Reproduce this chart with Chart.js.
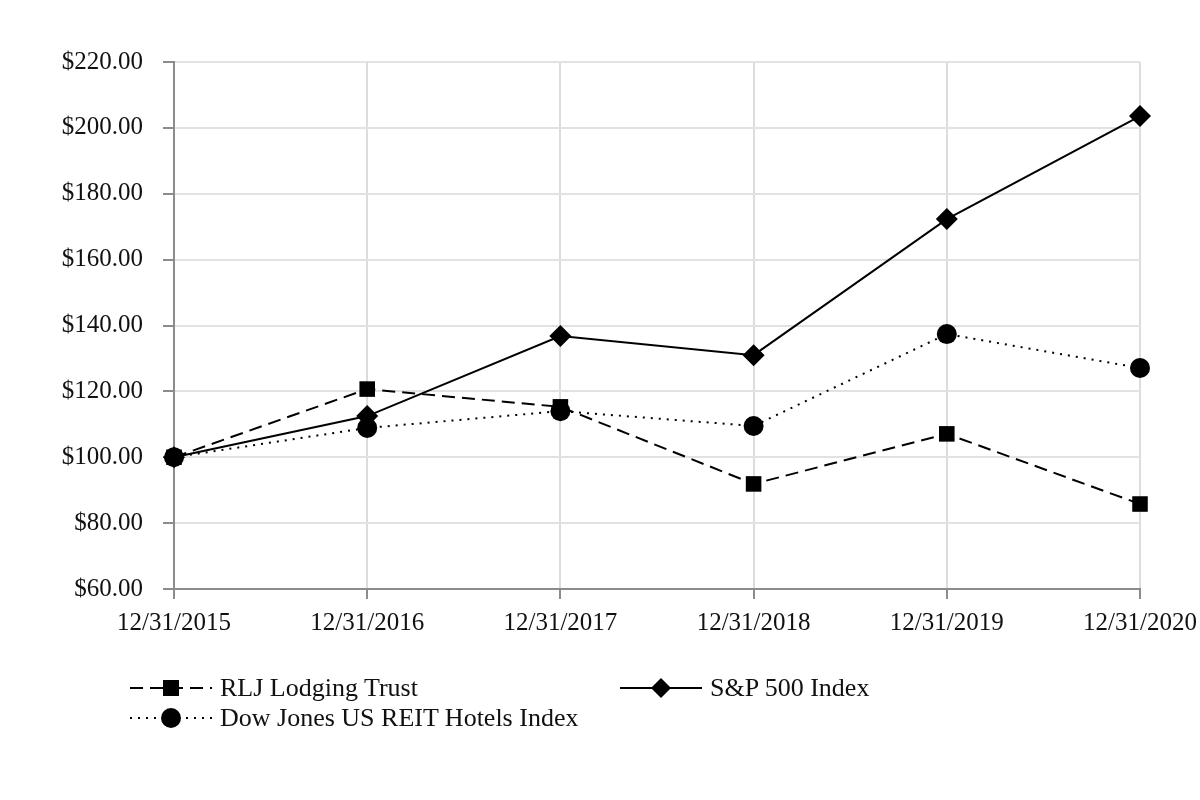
<!DOCTYPE html>
<html>
<head>
<meta charset="utf-8">
<script src="https://cdn.jsdelivr.net/npm/chart.js@4.4.1/dist/chart.umd.min.js"></script>
<style>
  html, body { margin: 0; padding: 0; background: #fff; }
  #wrap { position: relative; width: 1200px; height: 800px; }
  #legend { position: absolute; left: 0; top: 0; width: 1200px; height: 800px; pointer-events: none;
    font-family: "Liberation Serif", "Times New Roman", serif; font-size: 26px; color: #111; }
  .item { position: absolute; display: flex; align-items: center; height: 30px; }
  .item svg { display: block; }
  .item span { margin-left: 8px; white-space: nowrap; }
</style>
</head>
<body>
<div id="wrap">
  <canvas id="chart" width="1200" height="800"></canvas>
  <div id="legend"></div>
</div>
<script>
const years = ["12/31/2015", "12/31/2016", "12/31/2017", "12/31/2018", "12/31/2019", "12/31/2020"];
const rljValues = [100.0, 120.7, 115.3, 91.9, 107.1, 85.8];
const spValues = [100.0, 112.5, 136.8, 131.0, 172.3, 203.6];
const djValues = [100.0, 108.9, 114.0, 109.5, 137.4, 127.1];
const seriesNames = ["RLJ Lodging Trust", "S&P 500 Index", "Dow Jones US REIT Hotels Index"];
const yTicks = { min: 60, max: 220, step: 20 };

const font = { family: "'Liberation Serif', 'Times New Roman', serif", size: 25 };

const series = [
  { label: seriesNames[0], data: rljValues, dash: [13, 7], point: "rect", radius: 11, order: 2 },
  { label: seriesNames[1], data: spValues, dash: [], point: "rectRot", radius: 11, order: 1 },
  { label: seriesNames[2], data: djValues, dash: [2, 6], point: "circle", radius: 10, order: 0 },
];

const chart = new Chart(document.getElementById("chart"), {
  type: "line",
  data: {
    labels: years,
    datasets: series.map((s) => ({
      label: s.label,
      data: s.data,
      borderColor: "#000",
      backgroundColor: "#000",
      borderWidth: 2,
      borderDash: s.dash,
      pointStyle: s.point,
      pointRadius: s.radius,
      pointBorderWidth: 0,
      pointBackgroundColor: "#000",
      tension: 0,
      order: s.order,
    })),
  },
  options: {
    responsive: false,
    animation: false,
    layout: { padding: { left: 0, top: 62, right: 60, bottom: 161 } },
    scales: {
      x: {
        offset: false,
        grid: { color: "#dcdcdc", lineWidth: 2, tickColor: "#8c8c8c", tickLength: 10 },
        border: { color: "#8c8c8c", width: 2 },
        ticks: { color: "#111", font: font, padding: 9, maxRotation: 0, autoSkip: false },
        afterFit: (scale) => {
          scale.height = 50;
          scale.paddingLeft = 0;
          scale.paddingRight = 0;
        },
      },
      y: {
        min: yTicks.min,
        max: yTicks.max,
        grid: { color: "#e2e2e2", lineWidth: 2, tickColor: "#8c8c8c", tickLength: 11 },
        border: { color: "#8c8c8c", width: 2 },
        ticks: {
          stepSize: yTicks.step,
          color: "#111",
          font: font,
          padding: 20,
          callback: (value) => "$" + value.toFixed(2),
        },
        afterFit: (scale) => {
          scale.width = 174;
          scale.paddingTop = 0;
          scale.paddingBottom = 0;
        },
      },
    },
    plugins: {
      legend: { display: false },
      tooltip: { enabled: false },
    },
  },
});

// legend with line samples and markers
const legendEl = document.getElementById("legend");
const legendPos = [
  { left: 130, top: 673 },
  { left: 620, top: 673 },
  { left: 130, top: 703 },
];
const markerSvg = (style, cx, cy) => {
  if (style === "rect") return `<rect x="${cx - 8}" y="${cy - 8}" width="16" height="16" fill="#000"/>`;
  if (style === "rectRot") return `<polygon points="${cx},${cy - 10} ${cx + 10},${cy} ${cx},${cy + 10} ${cx - 10},${cy}" fill="#000"/>`;
  return `<circle cx="${cx}" cy="${cy}" r="10" fill="#000"/>`;
};
series.forEach((s, i) => {
  const div = document.createElement("div");
  div.className = "item";
  div.style.left = legendPos[i].left + "px";
  div.style.top = legendPos[i].top + "px";
  const w = 82;
  const dash = s.dash.length ? `stroke-dasharray="${s.dash.join(",")}"` : "";
  div.innerHTML =
    `<svg width="${w}" height="30"><line x1="0" y1="15" x2="${w}" y2="15" stroke="#000" stroke-width="2" ${dash}/>` +
    markerSvg(s.point, w / 2, 15) +
    `</svg><span></span>`;
  div.querySelector("span").textContent = s.label;
  legendEl.appendChild(div);
});
</script>
</body>
</html>
